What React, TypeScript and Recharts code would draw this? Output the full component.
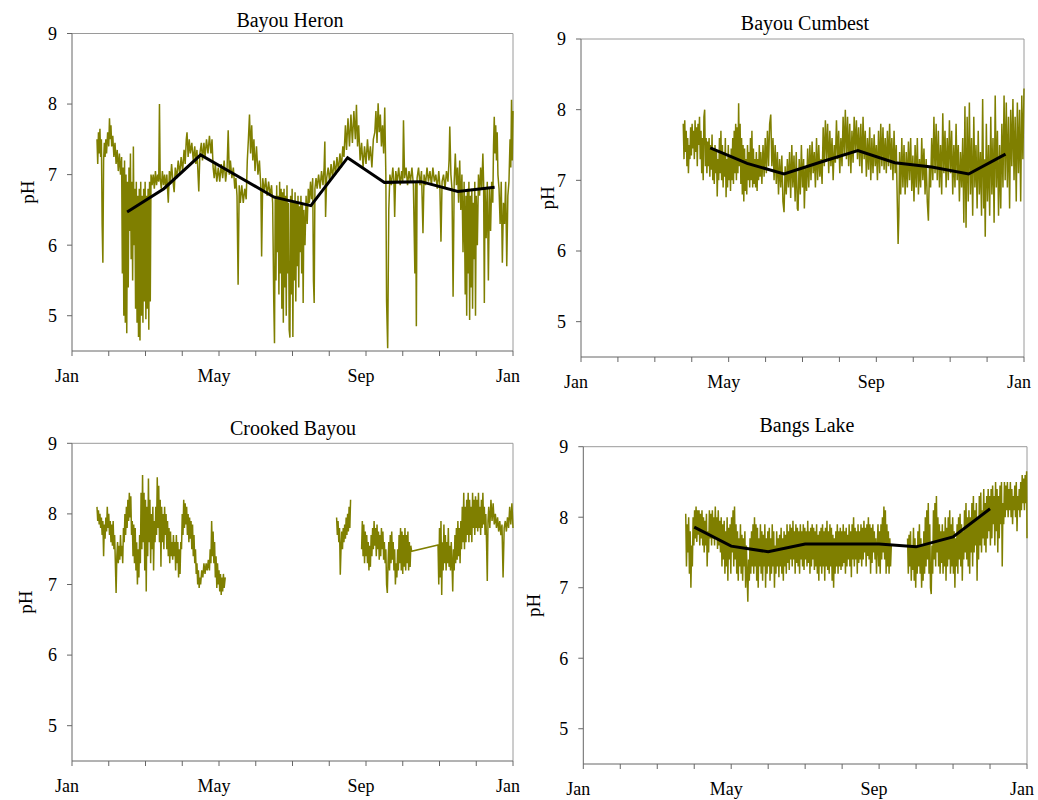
import { LineChart, Line, XAxis, YAxis, ReferenceLine } from "recharts";

type Pt = [number, number | null];

// x = months since Jan 1 (0..12), y = pH
const monthTicks = [0, 1, 2, 3, 4, 5, 6, 7, 8, 9, 10, 11, 12];
const monthLabels: Record<number, string> = { 0: "Jan", 4: "May", 8: "Sep", 12: "Jan" };
const phTicks = [5, 6, 7, 8, 9];

const heronMonthly: Pt[] = [
  [1.5, 6.47], [2.5, 6.8], [3.5, 7.28], [4.5, 6.98], [5.5, 6.68], [6.5, 6.56],
  [7.5, 7.24], [8.5, 6.89], [9.5, 6.9], [10.5, 6.76], [11.5, 6.82],
];

const cumbestMonthly: Pt[] = [
  [3.5, 7.46], [4.5, 7.24], [5.5, 7.09], [6.5, 7.26], [7.5, 7.42], [8.5, 7.25],
  [9.5, 7.19], [10.5, 7.09], [11.5, 7.37],
];

const bangsMonthly: Pt[] = [
  [3, 7.86], [4, 7.59], [5, 7.51], [6, 7.62], [7, 7.62], [8, 7.62], [9, 7.58], [10, 7.72], [11, 8.12],
];

const heronSonde: Pt[] = [
  [0.68,7.5],[0.70,7.15],[0.72,7.6],[0.74,7.3],[0.76,7.65],[0.78,7.25],[0.80,7.5],[0.82,6.3],[0.84,5.75],[0.86,7.2],
  [0.88,7.45],[0.90,7.25],[0.92,7.5],[0.94,7.3],[0.97,7.6],[1.00,7.4],[1.02,7.8],[1.04,7.5],[1.06,7.7],[1.08,7.4],
  [1.11,7.55],[1.14,7.25],[1.17,7.45],[1.20,7.15],[1.23,7.35],[1.26,7.05],[1.29,7.3],[1.32,7.0],[1.35,7.25],
  [1.37,5.6],[1.39,7.1],[1.41,5.0],[1.43,7.2],[1.45,4.9],[1.47,7.0],[1.49,4.75],[1.51,6.9],[1.53,5.4],[1.55,7.1],
  [1.57,6.2],[1.59,7.3],[1.61,5.8],[1.63,6.9],[1.65,5.5],[1.67,7.4],[1.69,6.0],[1.71,6.8],[1.73,5.1],[1.75,6.9],
  [1.77,4.9],[1.79,6.7],[1.81,4.7],[1.83,6.8],[1.85,4.65],[1.87,6.9],[1.89,5.0],[1.91,6.7],[1.93,4.9],[1.95,6.8],
  [1.97,5.2],[1.99,6.9],[2.01,4.95],[2.03,6.7],[2.05,5.1],[2.07,6.8],[2.09,4.8],[2.11,6.9],[2.13,5.2],[2.15,7.0],
  [2.18,6.85],[2.21,7.0],[2.24,6.8],[2.27,7.05],[2.30,6.85],[2.33,7.0],[2.36,6.9],[2.38,8.0],[2.40,6.95],[2.43,6.8],
  [2.46,7.05],[2.49,6.85],[2.52,7.0],[2.55,6.8],[2.58,7.0],[2.62,6.6],[2.65,7.05],[2.68,6.9],[2.71,7.15],[2.74,6.95],
  [2.78,6.75],[2.81,7.1],[2.85,6.95],[2.89,7.2],[2.93,7.0],[2.97,7.25],[3.01,7.05],[3.05,7.35],[3.08,7.15],[3.11,7.5],
  [3.13,7.6],[3.16,7.25],[3.19,7.5],[3.22,7.3],[3.26,7.45],[3.30,7.2],[3.34,7.4],[3.37,7.15],[3.40,7.35],[3.45,6.76],
  [3.48,7.3],[3.52,7.45],[3.55,7.2],[3.59,7.45],[3.62,7.25],[3.66,7.5],[3.70,7.3],[3.74,7.55],[3.78,7.3],[3.81,7.5],
  [3.84,7.1],[3.87,6.95],[3.90,7.15],[3.94,6.9],[3.98,7.1],[4.02,6.9],[4.06,7.15],[4.10,6.95],[4.14,7.2],[4.18,6.9],
  [4.22,7.1],[4.25,7.63],[4.28,7.0],[4.31,7.2],[4.35,6.95],[4.39,7.1],[4.43,6.8],[4.46,6.95],[4.49,6.7],[4.52,5.44],
  [4.55,6.85],[4.58,6.6],[4.62,6.85],[4.66,6.6],[4.70,6.8],[4.74,6.65],[4.77,7.2],[4.80,7.5],[4.83,7.85],[4.86,7.3],
  [4.89,7.7],[4.92,7.2],[4.95,7.5],[4.98,7.05],[5.02,7.4],[5.06,7.0],[5.10,7.2],[5.14,6.8],[5.16,5.84],[5.19,6.95],
  [5.23,6.75],[5.27,6.95],[5.31,6.7],[5.35,6.9],[5.39,6.7],[5.43,6.85],[5.46,6.6],
  [5.49,5.2],[5.51,4.61],[5.53,6.7],[5.55,5.5],[5.57,6.85],[5.59,5.9],[5.61,6.7],[5.63,5.3],[5.65,6.9],[5.67,5.6],
  [5.69,6.8],[5.71,5.1],[5.73,6.75],[5.75,4.9],[5.77,6.8],[5.79,5.4],[5.81,6.7],[5.83,5.0],[5.85,6.85],[5.87,5.6],
  [5.89,6.6],[5.91,4.8],[5.93,4.69],[5.95,6.7],[5.97,5.3],[5.99,6.8],[6.01,4.7],[6.03,6.6],[6.05,5.5],[6.07,6.75],
  [6.09,5.2],[6.11,6.6],[6.13,5.7],[6.15,6.7],[6.17,5.4],[6.19,6.55],[6.21,5.9],[6.23,6.7],[6.25,5.6],[6.27,6.6],
  [6.29,5.18],[6.31,6.5],[6.34,6.0],[6.37,6.7],[6.40,6.3],[6.43,6.8],[6.46,6.6],[6.49,6.9],[6.52,6.65],[6.55,6.95],
  [6.57,5.5],[6.59,5.18],[6.61,6.8],[6.64,6.95],[6.67,6.8],[6.71,7.0],[6.75,6.8],[6.79,7.05],[6.83,6.85],[6.86,7.1],
  [6.88,7.47],[6.90,6.4],[6.93,6.95],[6.97,7.1],[7.01,6.9],[7.05,7.15],[7.09,6.95],[7.13,7.2],[7.17,7.0],[7.21,7.25],
  [7.25,7.05],[7.29,7.3],[7.33,7.1],[7.37,7.4],[7.40,7.25],[7.44,7.7],[7.47,7.35],[7.51,7.8],[7.55,7.4],[7.59,7.85],
  [7.63,7.45],[7.67,7.9],[7.71,7.5],[7.74,7.99],[7.77,7.4],[7.80,7.7],[7.84,7.2],[7.88,7.45],[7.92,7.1],[7.96,7.4],
  [8.00,7.15],[8.04,7.5],[8.08,7.2],[8.12,7.4],[8.16,7.1],[8.20,7.5],[8.24,7.6],[8.27,7.9],[8.30,7.45],[8.33,8.01],
  [8.36,7.6],[8.39,7.85],[8.42,7.4],[8.45,7.7],[8.48,7.3],[8.51,7.95],[8.54,7.0],[8.56,5.2],[8.59,4.54],[8.62,6.5],
  [8.65,7.0],[8.69,6.85],[8.73,7.1],[8.76,6.9],[8.78,6.4],[8.81,7.05],[8.85,6.9],[8.89,7.1],[8.93,6.85],[8.97,7.05],
  [9.00,6.9],[9.02,7.77],[9.05,6.95],[9.09,7.1],[9.13,6.85],[9.17,7.05],[9.21,6.9],[9.25,7.1],[9.29,6.85],[9.33,5.6],
  [9.35,6.9],[9.37,4.85],[9.39,6.95],[9.43,7.1],[9.47,6.85],[9.51,7.05],[9.55,6.17],[9.58,7.0],[9.62,6.85],[9.66,7.1],
  [9.70,6.9],[9.74,7.05],[9.78,6.85],[9.82,7.1],[9.86,6.9],[9.90,7.0],[9.94,6.8],[9.98,7.05],[10.01,6.85],[10.04,6.05],
  [10.07,6.9],[10.11,7.0],[10.15,6.8],[10.19,7.05],[10.23,6.9],[10.26,7.2],[10.28,7.68],[10.31,7.0],[10.34,6.8],[10.37,5.27],
  [10.40,6.9],[10.43,7.3],[10.46,6.85],[10.49,7.1],[10.52,6.6],[10.55,7.2],[10.58,6.5],[10.61,7.0],[10.64,5.9],[10.67,6.9],
  [10.70,5.3],[10.72,6.7],[10.74,5.0],[10.76,6.8],[10.78,5.6],[10.80,6.9],[10.82,4.94],[10.84,6.7],[10.86,5.4],[10.88,6.8],
  [10.90,5.1],[10.92,6.6],[10.94,5.8],[10.96,6.9],[10.98,5.0],[11.00,6.7],[11.03,6.0],[11.06,7.0],[11.09,6.7],[11.12,7.1],
  [11.15,6.8],[11.18,7.3],[11.20,6.9],[11.22,5.18],[11.24,6.8],[11.27,6.1],[11.30,6.9],[11.33,5.5],[11.36,6.8],[11.39,6.2],
  [11.42,6.9],[11.45,6.6],[11.47,7.4],[11.49,7.82],[11.51,7.3],[11.53,7.7],[11.55,7.2],[11.57,7.6],[11.59,7.0],[11.62,6.8],
  [11.65,6.3],[11.68,6.9],[11.71,5.75],[11.74,6.6],[11.77,6.3],[11.80,6.9],[11.83,5.7],[11.86,6.7],[11.89,6.9],[11.92,7.5],
  [11.94,7.1],[11.96,8.06],[11.98,7.2],[12.0,7.9],
];

const cumbestSonde: Pt[] = [
  [2.77,7.8],[2.79,7.3],[2.81,7.85],[2.83,7.4],[2.85,7.7],[2.87,7.2],[2.89,7.6],[2.91,7.1],[2.93,7.5],[2.95,7.3],
  [2.97,7.75],[2.99,7.35],[3.01,7.8],[3.03,7.45],[3.05,7.7],[3.07,7.3],[3.09,7.85],[3.11,7.4],[3.13,7.75],[3.15,7.2],
  [3.17,7.8],[3.19,7.5],[3.21,7.9],[3.23,7.3],[3.25,7.7],[3.27,7.1],[3.29,7.6],[3.31,7.0],[3.33,7.9],[3.35,8.0],
  [3.37,7.2],[3.39,7.6],[3.41,7.1],[3.43,7.55],[3.45,7.2],[3.47,7.6],[3.49,7.05],[3.51,7.5],[3.53,7.15],[3.55,7.65],
  [3.57,7.0],[3.59,7.45],[3.61,6.95],[3.63,7.5],[3.65,7.1],[3.67,7.4],[3.69,6.77],[3.71,7.3],[3.73,7.0],[3.75,7.6],
  [3.77,7.1],[3.79,7.7],[3.81,7.0],[3.83,7.5],[3.85,6.9],[3.87,7.4],[3.89,7.05],[3.91,7.6],[3.93,6.76],[3.95,7.3],
  [3.97,6.9],[3.99,7.5],[4.01,7.0],[4.03,7.35],[4.05,6.85],[4.07,7.45],[4.09,7.0],[4.11,7.6],[4.13,6.95],[4.15,7.7],
  [4.17,7.1],[4.19,7.8],[4.21,7.0],[4.23,7.75],[4.25,7.1],[4.27,8.09],[4.29,7.2],[4.31,7.8],[4.33,6.95],[4.35,7.6],
  [4.37,6.8],[4.39,7.5],[4.41,6.7],[4.43,7.45],[4.45,6.85],[4.47,7.3],[4.49,6.8],[4.51,7.5],[4.53,7.0],[4.55,7.4],
  [4.57,6.9],[4.59,7.6],[4.61,7.0],[4.63,7.7],[4.65,6.9],[4.67,7.45],[4.69,6.95],[4.71,7.3],[4.73,6.9],[4.75,7.4],
  [4.77,6.85],[4.79,7.3],[4.81,7.0],[4.83,7.5],[4.85,7.05],[4.87,7.4],[4.90,6.95],[4.93,7.5],[4.96,7.05],[4.99,7.6],
  [5.02,7.1],[5.05,7.7],[5.08,7.2],[5.11,7.8],[5.14,7.93],[5.17,7.2],[5.20,7.6],[5.23,7.0],[5.26,7.5],[5.29,6.95],
  [5.32,7.4],[5.35,6.8],[5.38,7.3],[5.41,6.9],[5.44,7.35],[5.47,6.7],[5.50,6.55],[5.53,7.2],[5.56,6.8],[5.59,7.3],
  [5.62,6.9],[5.65,7.4],[5.68,6.75],[5.71,7.5],[5.74,6.9],[5.77,7.35],[5.80,6.7],[5.83,7.4],[5.86,6.6],[5.88,6.57],
  [5.91,7.3],[5.94,6.8],[5.97,7.5],[6.00,6.9],[6.03,7.3],[6.05,6.6],[6.08,7.2],[6.11,6.85],[6.14,7.45],[6.17,6.9],
  [6.20,7.5],[6.23,7.0],[6.26,7.55],[6.29,7.1],[6.32,7.4],[6.35,6.9],[6.38,7.6],[6.41,7.0],[6.44,7.5],[6.47,7.05],
  [6.50,7.3],[6.53,6.95],[6.56,7.75],[6.59,7.2],[6.62,7.85],[6.65,7.3],[6.68,7.8],[6.71,7.1],[6.74,7.7],[6.77,7.2],
  [6.80,7.6],[6.83,7.0],[6.86,7.5],[6.89,7.25],[6.92,7.85],[6.95,7.3],[6.98,7.7],[7.01,7.1],[7.04,7.6],[7.07,7.2],
  [7.10,7.9],[7.13,7.35],[7.16,8.0],[7.19,7.3],[7.22,7.9],[7.25,7.2],[7.28,7.8],[7.31,7.1],[7.34,7.7],[7.37,7.25],
  [7.40,7.9],[7.43,7.4],[7.46,7.85],[7.49,7.3],[7.52,7.75],[7.55,7.2],[7.58,7.8],[7.61,7.1],[7.64,7.9],[7.67,7.3],
  [7.70,7.7],[7.73,7.05],[7.76,7.6],[7.79,7.15],[7.82,7.75],[7.85,7.0],[7.88,7.6],[7.91,7.1],[7.94,7.65],[7.97,7.2],
  [8.00,7.5],[8.03,7.0],[8.06,7.7],[8.09,7.1],[8.12,7.8],[8.15,7.2],[8.18,7.75],[8.21,7.15],[8.24,7.6],[8.27,7.1],
  [8.30,7.7],[8.33,7.2],[8.36,7.8],[8.39,7.15],[8.42,7.6],[8.45,7.0],[8.48,7.7],[8.51,7.1],[8.54,7.5],[8.56,6.9],
  [8.59,6.1],[8.61,6.5],[8.63,7.4],[8.66,6.8],[8.69,7.6],[8.72,6.9],[8.75,7.5],[8.78,6.8],[8.81,7.4],[8.84,6.9],
  [8.87,7.55],[8.90,7.0],[8.93,7.6],[8.96,6.85],[8.99,7.35],[9.02,6.7],[9.05,7.5],[9.08,6.9],[9.11,7.6],[9.14,6.8],
  [9.17,7.3],[9.20,6.9],[9.23,7.6],[9.26,7.0],[9.29,7.45],[9.32,6.8],[9.35,7.3],[9.38,6.7],[9.41,6.43],[9.44,7.2],
  [9.47,6.9],[9.50,7.6],[9.53,7.0],[9.56,7.9],[9.59,7.1],[9.62,7.8],[9.65,7.0],[9.68,7.7],[9.71,6.9],[9.74,7.5],
  [9.77,6.8],[9.80,7.95],[9.83,7.1],[9.86,7.7],[9.89,6.9],[9.92,7.6],[9.95,7.0],[9.98,7.85],[10.01,7.1],[10.04,7.7],
  [10.07,6.8],[10.10,7.5],[10.13,6.9],[10.16,7.8],[10.19,7.0],[10.22,7.5],[10.25,6.7],[10.28,7.4],[10.31,6.9],[10.34,7.6],
  [10.37,6.4],[10.40,8.05],[10.43,6.33],[10.46,7.9],[10.49,6.7],[10.52,8.1],[10.55,6.8],[10.58,7.6],[10.61,6.5],[10.64,7.9],
  [10.67,6.9],[10.70,7.5],[10.73,6.6],[10.76,7.7],[10.79,6.8],[10.82,7.4],[10.85,6.5],[10.88,8.15],[10.91,6.6],[10.93,7.3],
  [10.95,6.2],[10.98,7.8],[11.01,6.7],[11.04,7.5],[11.07,6.5],[11.10,7.9],[11.13,6.8],[11.16,7.6],[11.19,6.4],[11.22,8.2],
  [11.25,6.9],[11.28,7.7],[11.31,6.5],[11.34,7.5],[11.37,6.6],[11.40,7.8],[11.43,6.9],[11.46,8.2],[11.49,7.0],[11.52,8.1],
  [11.55,6.9],[11.58,7.9],[11.61,6.6],[11.64,8.0],[11.67,7.2],[11.70,8.15],[11.73,7.0],[11.76,7.9],[11.79,6.7],[11.82,8.1],
  [11.85,7.1],[11.88,8.0],[11.91,6.7],[11.94,8.2],[11.97,7.3],[12.0,8.3],
];

const crookedSonde: Pt[] = [
  [0.68,8.1],[0.70,7.9],[0.72,8.05],[0.74,7.85],[0.76,8.0],[0.78,7.8],[0.80,7.95],[0.82,7.7],[0.84,7.9],[0.86,7.4],
  [0.88,7.85],[0.90,7.65],[0.92,7.95],[0.94,7.75],[0.96,8.1],[0.98,7.8],[1.00,8.0],[1.02,7.7],[1.04,7.9],[1.06,7.6],
  [1.08,7.85],[1.10,7.55],[1.12,7.9],[1.14,7.5],[1.16,7.7],[1.18,7.3],[1.20,6.88],[1.22,7.4],[1.24,7.6],[1.26,7.3],
  [1.28,7.55],[1.30,7.35],[1.32,7.7],[1.34,7.4],[1.36,7.55],[1.38,7.3],[1.40,7.8],[1.42,7.6],[1.44,8.0],[1.46,7.7],
  [1.48,8.1],[1.50,7.8],[1.52,8.2],[1.54,7.9],[1.56,8.3],[1.58,7.95],[1.60,8.25],[1.62,7.7],[1.64,7.9],[1.66,7.4],
  [1.68,7.85],[1.70,7.3],[1.72,7.8],[1.74,7.2],[1.76,7.6],[1.78,7.0],[1.80,7.5],[1.82,7.1],[1.84,7.7],[1.86,7.3],
  [1.88,8.3],[1.90,7.5],[1.92,8.55],[1.94,7.6],[1.96,8.3],[1.98,7.2],[2.00,8.2],[2.02,6.9],[2.04,8.1],[2.06,7.4],
  [2.08,8.5],[2.10,7.6],[2.12,8.2],[2.14,7.3],[2.16,8.0],[2.18,7.5],[2.20,8.1],[2.22,7.2],[2.24,7.9],[2.26,7.6],
  [2.28,8.1],[2.30,7.7],[2.32,8.52],[2.34,7.8],[2.36,8.4],[2.38,7.6],[2.40,8.2],[2.42,7.25],[2.44,8.1],[2.46,7.6],
  [2.48,8.0],[2.50,7.5],[2.52,8.1],[2.54,7.7],[2.56,8.0],[2.58,7.5],[2.60,7.9],[2.62,7.4],[2.64,7.8],[2.66,7.3],
  [2.68,7.75],[2.70,7.4],[2.72,7.6],[2.74,7.35],[2.76,7.7],[2.78,7.4],[2.80,7.6],[2.82,7.2],[2.84,7.7],[2.86,7.3],
  [2.88,7.6],[2.90,7.1],[2.92,7.5],[2.94,7.15],[2.96,7.6],[2.98,7.5],[3.00,8.0],[3.02,7.7],[3.04,8.2],[3.06,7.8],
  [3.08,8.15],[3.10,7.85],[3.12,8.1],[3.14,7.7],[3.16,8.0],[3.18,7.6],[3.20,7.95],[3.22,7.65],[3.24,7.9],[3.26,7.5],
  [3.28,7.85],[3.30,7.4],[3.32,7.7],[3.34,7.3],[3.36,7.5],[3.38,7.15],[3.40,7.3],[3.42,7.0],[3.44,7.2],[3.46,6.95],
  [3.48,7.1],[3.50,7.0],[3.53,7.2],[3.56,7.1],[3.59,7.3],[3.62,7.15],[3.65,7.3],[3.68,7.2],[3.71,7.35],[3.74,7.2],
  [3.76,7.5],[3.78,7.3],[3.80,7.9],[3.82,7.4],[3.84,7.75],[3.86,7.3],[3.88,7.6],[3.90,7.1],[3.92,7.4],[3.94,6.95],
  [3.96,7.3],[3.98,7.0],[4.00,7.2],[4.02,6.9],[4.04,7.15],[4.06,6.85],[4.08,7.1],[4.10,6.9],[4.12,7.15],[4.14,6.95],
  [4.17,7.1],
  [6.0,null],
  [7.20,7.95],[7.22,7.7],[7.24,7.9],[7.26,7.6],[7.28,7.8],[7.30,7.14],[7.32,7.5],[7.34,7.75],[7.36,7.5],[7.38,7.8],
  [7.40,7.6],[7.42,7.85],[7.44,7.65],[7.46,7.95],[7.48,7.7],[7.50,8.0],[7.52,7.75],[7.54,8.1],[7.56,7.8],[7.58,8.2],
  [7.7,null],
  [7.88,7.5],[7.90,7.9],[7.92,7.4],[7.94,7.85],[7.96,7.3],[7.98,7.75],[8.00,7.4],[8.02,7.7],[8.04,7.3],[8.06,7.6],
  [8.08,7.2],[8.10,7.55],[8.12,7.25],[8.14,7.7],[8.16,7.4],[8.18,7.8],[8.20,7.5],[8.22,7.9],[8.24,7.55],[8.26,7.8],
  [8.28,7.4],[8.30,7.85],[8.32,7.5],[8.34,7.75],[8.36,7.35],[8.38,7.7],[8.40,7.4],[8.42,7.8],[8.44,7.5],[8.46,7.75],
  [8.48,7.35],[8.50,7.6],[8.52,7.3],[8.54,7.5],[8.56,7.0],[8.58,6.88],[8.60,7.3],[8.62,7.6],[8.64,7.2],[8.66,7.7],
  [8.68,7.3],[8.70,7.75],[8.72,7.35],[8.74,7.6],[8.76,7.2],[8.78,7.5],[8.80,7.0],[8.82,7.3],[8.84,7.1],[8.86,7.5],
  [8.88,7.2],[8.90,7.7],[8.92,7.3],[8.94,7.8],[8.96,7.2],[8.98,7.75],[9.00,7.15],[9.02,7.7],[9.04,7.25],[9.06,7.8],
  [9.08,7.2],[9.10,7.7],[9.12,7.3],[9.14,7.75],[9.16,7.2],[9.18,7.6],[9.20,7.25],[9.22,7.55],[9.24,7.47],
  [9.96,7.56],[9.98,7.0],[10.00,7.8],[10.02,7.1],[10.04,7.9],[10.06,6.85],[10.08,7.6],[10.10,7.2],[10.12,7.85],[10.14,7.3],
  [10.16,7.7],[10.18,7.2],[10.20,7.6],[10.22,7.3],[10.24,7.8],[10.26,7.25],[10.28,7.55],[10.30,7.2],[10.32,7.6],[10.34,7.3],
  [10.36,6.9],[10.38,7.5],[10.40,7.2],[10.42,7.7],[10.44,7.3],[10.46,7.8],[10.48,7.35],[10.50,7.9],[10.52,7.4],[10.54,7.8],
  [10.56,7.3],[10.58,7.9],[10.60,7.5],[10.62,8.1],[10.64,7.6],[10.66,8.3],[10.68,7.5],[10.70,8.1],[10.72,7.6],[10.74,8.2],
  [10.76,7.7],[10.78,8.3],[10.80,7.6],[10.82,8.2],[10.84,7.7],[10.86,8.1],[10.88,7.6],[10.90,8.3],[10.92,7.8],[10.94,8.2],
  [10.96,7.7],[10.98,8.25],[11.00,7.8],[11.02,8.2],[11.04,7.75],[11.06,8.3],[11.08,7.8],[11.10,8.1],[11.12,7.7],[11.14,8.2],
  [11.16,7.8],[11.18,8.3],[11.20,7.85],[11.22,8.1],[11.24,7.7],[11.26,8.0],[11.28,7.6],[11.30,7.05],[11.32,7.9],[11.34,8.1],
  [11.37,7.8],[11.40,8.2],[11.43,7.9],[11.46,8.15],[11.49,7.85],[11.52,8.0],[11.55,7.8],[11.58,7.95],[11.61,7.75],[11.64,7.9],
  [11.67,7.7],[11.70,7.85],[11.73,7.1],[11.76,7.8],[11.79,7.9],[11.82,7.75],[11.85,7.95],[11.88,7.8],[11.91,8.1],[11.94,7.85],
  [11.97,8.15],[12.0,7.8],
];

const bangsSonde: Pt[] = [
  [2.77,8.05],[2.79,7.3],[2.81,7.9],[2.83,7.5],[2.85,8.0],[2.87,7.2],[2.89,7.8],[2.91,7.0],[2.93,7.6],[2.95,7.3],
  [2.97,8.0],[2.99,7.6],[3.01,8.1],[3.03,7.7],[3.05,8.15],[3.07,7.65],[3.09,8.1],[3.11,7.75],[3.13,8.1],[3.15,7.6],
  [3.17,8.05],[3.19,7.7],[3.21,8.1],[3.23,7.6],[3.25,8.0],[3.27,7.5],[3.29,7.95],[3.31,7.6],[3.33,8.05],[3.35,7.3],
  [3.37,7.8],[3.39,7.5],[3.41,8.1],[3.43,7.7],[3.45,8.05],[3.47,7.6],[3.49,8.1],[3.51,7.7],[3.53,8.0],[3.55,7.6],
  [3.57,8.15],[3.59,7.7],[3.61,8.0],[3.63,7.55],[3.65,8.1],[3.67,7.6],[3.69,7.95],[3.71,7.5],[3.73,8.0],[3.75,7.3],
  [3.77,7.9],[3.79,7.4],[3.81,7.95],[3.83,7.2],[3.85,7.8],[3.87,7.3],[3.89,8.0],[3.91,7.1],[3.93,7.85],[3.95,7.4],
  [3.97,7.9],[3.99,7.2],[4.01,8.0],[4.03,7.5],[4.05,8.1],[4.07,7.3],[4.09,8.15],[4.11,7.4],[4.13,7.9],[4.15,7.2],
  [4.17,7.8],[4.19,7.1],[4.21,7.7],[4.23,7.3],[4.25,7.9],[4.27,7.2],[4.29,7.75],[4.31,7.1],[4.33,7.7],[4.35,7.3],
  [4.37,7.8],[4.39,7.0],[4.41,7.6],[4.43,7.2],[4.45,6.8],[4.47,7.4],[4.49,7.1],[4.51,7.7],[4.53,7.2],[4.55,7.8],
  [4.57,7.3],[4.59,7.9],[4.61,7.2],[4.63,8.0],[4.65,7.3],[4.67,7.9],[4.69,7.1],[4.71,7.85],[4.73,7.0],[4.75,7.7],
  [4.77,7.3],[4.79,7.9],[4.81,7.2],[4.83,7.8],[4.85,7.1],[4.87,7.75],[4.89,7.3],[4.91,7.9],[4.93,7.0],[4.95,7.7],
  [4.97,7.2],[4.99,7.8],[5.01,7.3],[5.03,7.85],[5.05,7.1],[5.07,7.7],[5.09,7.2],[5.11,7.9],[5.13,7.3],[5.15,7.8],
  [5.17,7.0],[5.19,7.6],[5.21,7.2],[5.23,7.8],[5.25,7.3],[5.27,7.7],[5.29,7.15],[5.31,7.75],[5.33,7.3],[5.35,7.85],
  [5.37,7.2],[5.39,7.7],[5.41,7.1],[5.43,7.8],[5.45,7.3],[5.47,7.75],[5.49,7.2],[5.51,7.9],[5.53,7.35],[5.55,7.8],
  [5.57,7.25],[5.59,7.9],[5.61,7.4],[5.63,7.85],[5.65,7.3],[5.67,7.95],[5.69,7.4],[5.71,7.8],[5.73,7.2],[5.75,7.9],
  [5.77,7.35],[5.79,7.85],[5.81,7.3],[5.83,7.8],[5.85,7.2],[5.87,7.9],[5.89,7.4],[5.91,7.8],[5.93,7.3],[5.95,7.9],
  [5.97,7.25],[5.99,7.85],[6.01,7.4],[6.03,7.8],[6.05,7.3],[6.07,7.95],[6.09,7.35],[6.11,7.8],[6.13,7.2],[6.15,7.85],
  [6.17,7.3],[6.19,7.9],[6.21,7.4],[6.23,7.85],[6.25,7.25],[6.27,7.8],[6.29,7.3],[6.31,7.9],[6.33,7.2],[6.35,7.75],
  [6.37,7.1],[6.39,7.8],[6.41,7.3],[6.43,7.85],[6.45,7.2],[6.47,7.9],[6.49,7.3],[6.51,7.8],[6.53,7.1],[6.55,7.85],
  [6.57,7.3],[6.59,7.95],[6.61,7.25],[6.63,7.8],[6.65,7.2],[6.67,7.9],[6.69,7.3],[6.71,7.85],[6.73,7.1],[6.75,7.75],
  [6.77,7.0],[6.79,7.7],[6.81,7.2],[6.83,7.8],[6.85,7.3],[6.87,7.9],[6.89,7.2],[6.91,7.8],[6.93,7.3],[6.95,7.85],
  [6.97,7.25],[6.99,7.8],[7.01,7.3],[7.03,7.9],[7.05,7.35],[7.07,7.8],[7.09,7.2],[7.11,7.85],[7.13,7.3],[7.15,7.75],
  [7.17,7.4],[7.19,7.9],[7.21,7.3],[7.23,7.8],[7.25,7.15],[7.27,7.9],[7.29,7.4],[7.31,8.0],[7.33,7.3],[7.35,7.85],
  [7.37,7.4],[7.39,7.8],[7.41,7.2],[7.43,7.9],[7.45,7.35],[7.47,7.8],[7.49,7.4],[7.51,7.9],[7.53,7.3],[7.55,7.85],
  [7.57,7.4],[7.59,7.95],[7.61,7.5],[7.63,7.85],[7.65,7.3],[7.67,7.9],[7.69,7.45],[7.71,8.0],[7.73,7.4],[7.75,7.9],
  [7.77,7.2],[7.79,7.85],[7.81,7.35],[7.83,7.9],[7.85,7.5],[7.87,7.8],[7.89,7.4],[7.91,7.7],[7.93,7.2],[7.95,7.6],
  [7.97,7.9],[7.99,7.3],[8.01,7.8],[8.03,7.2],[8.05,7.9],[8.07,7.4],[8.09,8.0],[8.11,7.5],[8.13,8.15],[8.15,7.4],
  [8.17,8.1],[8.19,7.2],[8.21,7.9],[8.23,7.3],[8.25,7.8],[8.27,7.2],[8.29,7.7],[8.31,7.3],[8.33,7.6],
  [8.55,null],
  [8.77,7.7],[8.79,7.2],[8.81,7.75],[8.83,7.3],[8.85,7.8],[8.87,7.1],[8.89,7.6],[8.91,7.25],[8.93,7.85],[8.95,7.1],
  [8.97,7.7],[8.99,7.0],[9.01,7.6],[9.03,7.2],[9.05,7.8],[9.07,7.3],[9.09,7.9],[9.11,7.2],[9.13,7.7],[9.15,7.0],
  [9.17,7.6],[9.19,7.1],[9.21,7.8],[9.23,7.2],[9.25,8.0],[9.27,7.3],[9.29,8.1],[9.31,7.4],[9.33,8.2],[9.35,7.2],
  [9.37,7.9],[9.39,7.0],[9.41,6.91],[9.43,7.6],[9.45,7.2],[9.47,8.1],[9.49,7.4],[9.51,8.2],[9.53,7.3],[9.55,8.3],
  [9.57,7.5],[9.59,8.0],[9.61,7.3],[9.63,7.9],[9.65,7.2],[9.67,7.8],[9.69,7.35],[9.71,7.9],[9.73,7.2],[9.75,7.8],
  [9.77,7.3],[9.79,8.0],[9.81,7.1],[9.83,7.85],[9.85,7.3],[9.87,8.0],[9.89,7.4],[9.91,8.1],[9.93,7.2],[9.95,7.9],
  [9.97,7.3],[9.99,8.0],[10.01,7.2],[10.03,7.8],[10.05,7.0],[10.07,7.7],[10.09,7.3],[10.11,7.9],[10.13,7.2],[10.15,8.0],
  [10.17,7.4],[10.19,8.05],[10.21,7.3],[10.23,7.9],[10.25,7.1],[10.27,7.8],[10.29,7.4],[10.31,8.1],[10.33,7.5],[10.35,8.2],
  [10.37,7.4],[10.39,8.0],[10.41,7.3],[10.43,8.1],[10.45,7.2],[10.47,8.0],[10.49,7.5],[10.51,8.2],[10.53,7.3],[10.55,8.3],
  [10.57,7.5],[10.59,8.1],[10.61,7.6],[10.63,8.2],[10.65,7.1],[10.67,8.0],[10.69,7.4],[10.71,8.3],[10.73,7.6],[10.75,8.35],
  [10.77,7.5],[10.79,8.1],[10.81,7.7],[10.83,8.4],[10.85,7.6],[10.87,8.2],[10.89,7.5],[10.91,8.3],[10.93,7.7],[10.95,8.4],
  [10.97,7.8],[10.99,8.3],[11.01,7.6],[11.03,8.4],[11.05,7.7],[11.07,8.45],[11.09,7.9],[11.11,8.3],[11.13,7.6],[11.15,8.5],
  [11.17,7.8],[11.19,8.4],[11.21,7.5],[11.23,8.3],[11.25,7.7],[11.27,8.45],[11.29,7.9],[11.31,8.5],[11.33,7.3],[11.35,8.2],
  [11.37,7.9],[11.39,8.5],[11.41,8.0],[11.43,8.45],[11.45,8.1],[11.47,8.5],[11.49,8.0],[11.51,8.4],[11.53,8.1],[11.55,8.5],
  [11.57,8.0],[11.59,8.4],[11.61,7.9],[11.63,8.3],[11.65,8.1],[11.67,8.45],[11.69,8.0],[11.71,8.5],[11.73,7.8],[11.75,8.3],
  [11.77,8.1],[11.79,8.4],[11.81,8.0],[11.83,8.5],[11.85,8.1],[11.87,8.6],[11.89,8.2],[11.91,8.55],[11.93,8.1],[11.95,8.6],
  [11.97,8.2],[11.99,8.65],[12.0,7.7],
];

const OLIVE = "#7f7f00";
const AXIS = "#666";
const FONT = "'Liberation Serif', 'Times New Roman', serif";
const W = 520;
const H = 400;

const toRows = (pts: Pt[]) => pts.map(([m, ph]) => ({ m, ph }));

function MonthTick(props: any) {
  const { x, y, payload } = props;
  const label = monthLabels[payload.value];
  if (!label) return <g />;
  return (
    <text x={x - 5} y={y + 26} textAnchor="middle" fontSize={18} fontFamily={FONT} fill="#000">
      {label}
    </text>
  );
}

interface PanelProps {
  title: string;
  sonde: Pt[];
  monthly?: Pt[];
  left: number;
  top: number;
  plot: { l: number; r: number; t: number; b: number };
  titleX: number;
  titleY: number;
  phX: number;
}

function Panel({ title, sonde, monthly, left, top, plot, titleX, titleY, phX }: PanelProps) {
  const phY = (plot.t + plot.b) / 2;
  return (
    <div style={{ position: "absolute", left, top, width: W, height: H }}>
      <LineChart width={W} height={H} margin={{ top: plot.t, right: W - plot.r, bottom: 0, left: 0 }}>
        <XAxis
          type="number"
          dataKey="m"
          domain={[0, 12]}
          ticks={monthTicks}
          interval={0}
          height={H - plot.b}
          tickSize={5}
          tickMargin={0}
          tick={MonthTick}
          axisLine={{ stroke: AXIS }}
          tickLine={{ stroke: AXIS }}
        />
        <YAxis
          type="number"
          domain={[4.5, 9]}
          ticks={phTicks}
          width={plot.l}
          tickSize={5}
          tickMargin={10}
          tick={{ fill: "#000", fontSize: 18, fontFamily: FONT }}
          axisLine={{ stroke: AXIS }}
          tickLine={{ stroke: AXIS }}
        />
        <ReferenceLine y={9} stroke="#9a9a9a" />
        <ReferenceLine x={12} stroke="#9a9a9a" />
        <Line
          data={toRows(sonde)}
          dataKey="ph"
          type="linear"
          stroke={OLIVE}
          strokeWidth={1.5}
          strokeLinejoin="miter"
          dot={false}
          activeDot={false}
          connectNulls={false}
          isAnimationActive={false}
        />
        {monthly && (
          <Line
            data={toRows(monthly)}
            dataKey="ph"
            type="linear"
            stroke="#000"
            strokeWidth={3}
            dot={false}
            activeDot={false}
            isAnimationActive={false}
          />
        )}
      </LineChart>
      <svg width={W} height={H} style={{ position: "absolute", left: 0, top: 0, pointerEvents: "none" }}>
        <text x={titleX} y={titleY} textAnchor="middle" fontSize={20} fontFamily={FONT} fill="#000">
          {title}
        </text>
        <text
          transform={`translate(${phX},${phY}) rotate(-90)`}
          textAnchor="middle"
          dominantBaseline="central"
          fontSize={19}
          fontFamily={FONT}
          fill="#000"
        >
          pH
        </text>
      </svg>
    </div>
  );
}

export default function App() {
  return (
    <div style={{ position: "absolute", left: 0, top: 0, width: 1038, height: 800, background: "#fff" }}>
      <Panel
        title="Bayou Heron"
        sonde={heronSonde}
        monthly={heronMonthly}
        left={0}
        top={0}
        plot={{ l: 72, r: 513, t: 33.5, b: 351 }}
        titleX={290}
        titleY={27}
        phX={27}
      />
      <Panel
        title="Bayou Cumbest"
        sonde={cumbestSonde}
        monthly={cumbestMonthly}
        left={520}
        top={0}
        plot={{ l: 61, r: 504, t: 39, b: 357 }}
        titleX={285}
        titleY={30}
        phX={27}
      />
      <Panel
        title="Crooked Bayou"
        sonde={crookedSonde}
        left={0}
        top={400}
        plot={{ l: 72, r: 513, t: 43.3, b: 361 }}
        titleX={293}
        titleY={35}
        phX={25}
      />
      <Panel
        title="Bangs Lake"
        sonde={bangsSonde}
        monthly={bangsMonthly}
        left={520}
        top={400}
        plot={{ l: 63.3, r: 507, t: 46.7, b: 364 }}
        titleX={287}
        titleY={31.5}
        phX={13}
      />
    </div>
  );
}
